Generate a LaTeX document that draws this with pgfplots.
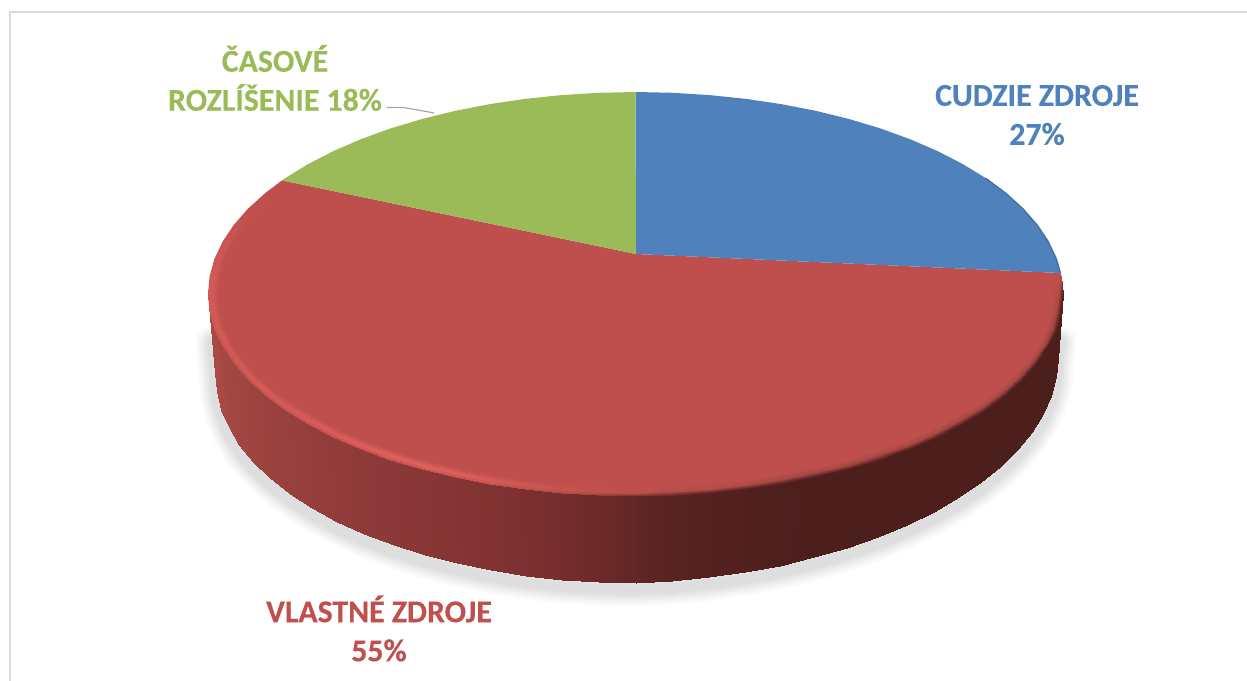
\documentclass[border=0pt]{standalone}
\usepackage{pgfplots}
\usepackage{pgfplotstable}
\usepackage{fontspec}
\pgfplotsset{compat=1.18}
\setmainfont{Carlito}[BoldFeatures={FakeBold=0.3}]
\definecolor{cblue}{RGB}{79,129,189}
\definecolor{cred}{RGB}{190,79,76}
\definecolor{cgreen}{RGB}{155,187,89}
\definecolor{tred}{RGB}{192,80,77}
\pgfplotstableread{
x y m
208 294 0.82
215.5 373 0.82
209.6 311.6 0.82
217 391.3 0.82
214.5 329.1 0.80
221.5 409.5 0.80
222.6 346.3 0.78
229 427.3 0.78
233.8 363.1 0.76
239 444.8 0.76
248.1 379.4 0.74
253.1 461.7 0.74
265.3 395 0.72
270.1 478 0.72
285.3 409.9 0.70
289.9 493.5 0.70
308 423.8 0.68
312.3 508 0.68
333.2 436.8 0.66
337.1 521.5 0.66
360.7 448.7 0.64
364.3 533.9 0.64
390.3 459.5 0.62
393.5 545 0.62
421.7 468.9 0.60
424.5 554.9 0.60
454.8 477.1 0.57
457.1 563.3 0.57
489.3 483.8 0.52
491.2 570.3 0.52
524.9 489.1 0.47
526.3 575.8 0.47
561.3 492.9 0.41
562.3 579.8 0.41
598.2 495.2 0.33
598.7 582.2 0.33
635.5 496 0.25
635.5 583 0.25
672.8 495.2 0.18
672.3 581 0.18
709.7 492.9 0.12
708.7 577.4 0.12
746.1 489.1 0.07
744.7 572.2 0.07
781.7 483.8 0.03
779.8 565.5 0.03
816.2 477.1 0
813.9 557.4 0
849.3 468.9 0
846.5 547.9 0
880.7 459.5 0
877.5 537 0
910.3 448.7 0
906.7 524.9 0
937.8 436.8 0
933.9 511.6 0
963 423.8 0
958.7 497.3 0
985.7 409.9 0
981.1 482 0
1005.7 395 0
1000.9 465.9 0
1022.9 379.4 0
1017.9 449 0
1037.2 363.1 0
1032 431.6 0
1048.4 346.3 0
1043 413.8 0
1056.5 329.1 0
1051 395.7 0
1061.4 311.6 0
1055.9 377.4 0
1063 294 0
1057.5 359 0
}\wall
\pgfplotstableread{
x y m
265.3 193 1.00
268.8 195 1.00
274 198 1
248.1 208.6 1.05
251.7 210.3 1.10
257.2 212.9 1
233.8 224.9 1.15
237.6 226.3 1.20
243.2 228.3 1
222.6 241.7 1.30
226.5 242.8 1.35
232.3 244.3 1
214.5 258.9 1.40
218.5 259.6 1.45
224.4 260.7 1
209.6 276.4 1.50
213.6 276.7 1.55
219.6 277.3 1
208 294 1.55
212 294 1.60
218 294 1
209.6 311.6 1.50
213.6 311.3 1.60
219.6 310.7 1
214.5 329.1 1.40
218.5 328.4 1.65
224.4 327.3 1
222.6 346.3 1.30
226.5 345.2 1.65
232.3 343.7 1
233.8 363.1 1.20
237.6 361.7 1.65
243.2 359.7 1
248.1 379.4 1.20
251.7 377.7 1.65
257.2 375.1 1
265.3 395 1.20
268.8 393 1.70
274 390 1
285.3 409.9 1.20
288.6 407.6 1.70
293.5 404.1 1
308 423.8 1.20
311.1 421.3 1.75
315.7 417.4 1
333.2 436.8 1.20
336 434 1.80
340.3 429.8 1
360.7 448.7 1.20
363.3 445.7 1.90
367.1 441.1 1
390.3 459.5 1.20
392.6 456.2 2
396 451.3 1
421.7 468.9 1.20
423.7 465.5 2
426.7 460.3 1
454.8 477.1 1.15
456.5 473.4 1.90
459 468 1
489.3 483.8 1.10
490.7 480.1 1.70
492.7 474.4 1
524.9 489.1 0.95
525.9 485.2 1.50
527.5 479.5 1
561.3 492.9 0.80
562 489 1.30
563 483.1 1
598.2 495.2 0.65
598.6 491.2 1.15
599.1 485.3 1
635.5 496 0.50
635.5 492 1.05
635.5 486 1
672.8 495.2 0.35
672.4 491.2 0.95
671.9 485.3 1
709.7 492.9 0.20
709 489 0.90
708 483.1 1
746.1 489.1 0.10
745.1 485.2 0.85
743.5 479.5 1
781.7 483.8 0.03
780.3 480.1 0.75
778.3 474.4 1
816.2 477.1 0.03
814.5 473.4 0.72
812 468 1
849.3 468.9 0.03
847.3 465.5 0.72
844.3 460.3 1
880.7 459.5 0.03
878.4 456.2 0.72
875 451.3 1
910.3 448.7 0.03
907.7 445.7 0.72
903.9 441.1 1
937.8 436.8 0.03
935 434 0.72
930.7 429.8 1
963 423.8 0.03
959.9 421.3 0.72
955.3 417.4 1
985.7 409.9 0.03
982.4 407.6 0.72
977.5 404.1 1
1005.7 395 0.03
1002.2 393 0.72
997 390 1
1022.9 379.4 0.03
1019.3 377.7 0.72
1013.8 375.1 1
1037.2 363.1 0.03
1033.4 361.7 0.72
1027.8 359.7 1
1048.4 346.3 0.03
1044.5 345.2 0.72
1038.7 343.7 1
1056.5 329.1 0.03
1052.5 328.4 0.72
1046.6 327.3 1
1061.4 311.6 0.03
1057.4 311.3 0.75
1051.4 310.7 1
1063 294 0.10
1059 294 0.80
1053 294 1
1061.4 276.4 0.95
1057.4 276.7 1
1051.4 277.3 1
}\bevel
\pgfplotstableread{
x y
212 335
215.5 373
217 391.3
221.5 409.5
229 427.3
239 444.8
253.1 461.7
270.1 478
289.9 493.5
312.3 508
337.1 521.5
364.3 533.9
393.5 545
424.5 554.9
457.1 563.3
491.2 570.3
526.3 575.8
562.3 579.8
598.7 582.2
635.5 583
672.3 581
708.7 577.4
744.7 572.2
779.8 565.5
813.9 557.4
846.5 547.9
877.5 537
906.7 524.9
933.9 511.6
958.7 497.3
981.1 482
1000.9 465.9
1017.9 449
1032 431.6
1043 413.8
1051 395.7
1055.9 377.4
1057.5 359
1060 335
}\outline
\begin{document}
\begin{tikzpicture}
\useasboundingbox (0,0) rectangle (623.5pt,340pt);
\begin{axis}[
  at={(0,0)},anchor=south west,
  width=623.5pt,height=340pt,scale only axis,
  xmin=0,xmax=1247,ymin=0,ymax=680,y dir=reverse,
  hide axis,clip=true,
  colormap={pie}{rgb255(0cm)=(76,30,28) rgb255(2cm)=(90,36,35) rgb255(4cm)=(117,45,44)
    rgb255(6cm)=(136,54,54) rgb255(8cm)=(168,74,69) rgb255(10cm)=(190,79,76) rgb255(20cm)=(226,98,94)},
  point meta min=0,point meta max=2,
  every axis plot/.append style={line join=round}
]
% frame
\addplot[draw={rgb,255:red,217;green,217;blue,217},line width=1pt] coordinates {(1250,12) (10,12) (10,683)};
% shadow
\addplot[draw=black,draw opacity=0.012,line width=17pt,line cap=round] table[x=x,y expr=\thisrow{y}+7] {\outline};
\addplot[draw=black,draw opacity=0.015,line width=15pt,line cap=round] table[x=x,y expr=\thisrow{y}+7] {\outline};
\addplot[draw=black,draw opacity=0.02,line width=13pt,line cap=round] table[x=x,y expr=\thisrow{y}+7] {\outline};
\addplot[draw=black,draw opacity=0.02,line width=11pt,line cap=round] table[x=x,y expr=\thisrow{y}+7] {\outline};
\addplot[draw=black,draw opacity=0.025,line width=9pt,line cap=round] table[x=x,y expr=\thisrow{y}+7] {\outline};
\addplot[draw=black,draw opacity=0.025,line width=7pt,line cap=round] table[x=x,y expr=\thisrow{y}+7] {\outline};
\addplot[draw=black,draw opacity=0.025,line width=5pt,line cap=round] table[x=x,y expr=\thisrow{y}+7] {\outline};
% wall
\addplot[surf,shader=interp,mesh/cols=2,mesh/ordering=x varies,point meta=\thisrow{m}] table[x=x,y=y] {\wall};
% top faces
\addplot[fill=cred,draw=none] coordinates {
(636,254) (1060.6,273) (1061.4,276.4) (1063,294) (1061.4,311.6) (1056.5,329.1) (1048.4,346.3) (1037.2,363.1)
(1022.9,379.4) (1005.7,395) (985.7,409.9) (963,423.8) (937.8,436.8) (910.3,448.7) (880.7,459.5) (849.3,468.9)
(816.2,477.1) (781.7,483.8) (746.1,489.1) (709.7,492.9) (672.8,495.2) (635.5,496) (598.2,495.2) (561.3,492.9)
(524.9,489.1) (489.3,483.8) (454.8,477.1) (421.7,468.9) (390.3,459.5) (360.7,448.7) (333.2,436.8) (308,423.8)
(285.3,409.9) (265.3,395) (248.1,379.4) (233.8,363.1) (222.6,346.3) (214.5,329.1) (209.6,311.6) (208,294)
(209.6,276.4) (214.5,258.9) (222.6,241.7) (233.8,224.9) (248.1,208.6) (265.3,193) (282,180.4)
} --cycle;
\addplot[fill=cblue,draw=none] coordinates {
(636,254) (635.5,92) (672.8,92.8) (709.7,95.1) (746.1,98.9) (781.7,104.2) (816.2,110.9) (849.3,119.1) (880.7,128.5)
(910.3,139.3) (937.8,151.2) (963,164.2) (985.7,178.1) (1005.7,193) (1022.9,208.6) (1037.2,224.9) (1048.4,241.7)
(1056.5,258.9) (1060.6,273)
} --cycle;
\addplot[fill=cgreen,draw=none] coordinates {
(636,254) (282,180.4) (285.3,178.1) (308,164.2) (333.2,151.2) (360.7,139.3) (390.3,128.5) (421.7,119.1) (454.8,110.9)
(489.3,104.2) (524.9,98.9) (561.3,95.1) (598.2,92.8) (635.5,92)
} --cycle;
% bevel of the rim
\addplot[surf,shader=interp,mesh/cols=3,mesh/ordering=x varies,point meta=\thisrow{m}] table[x=x,y=y] {\bevel};
% dark edge of the blue slice
\addplot[draw={rgb,255:red,45;green,85;blue,130},draw opacity=0.7,line width=0.6pt] coordinates {
(985.7,178.1) (1005.7,193) (1022.9,208.6) (1037.2,224.9) (1048.4,241.7) (1056.5,258.9) (1060.6,273)};
% leader line
\addplot[draw={rgb,255:red,166;green,166;blue,166},line width=0.6pt,smooth] coordinates {(387,107.5) (402,107.5) (418,110) (434,113)};
% labels
\node[font=\bfseries\fontsize{15.9}{19.5}\selectfont,text=cgreen,align=center] at (axis cs:275,78) {ČASOVÉ\\ROZLÍŠENIE 18\%};
\node[font=\bfseries\fontsize{15.9}{19.5}\selectfont,text=cblue,align=center] at (axis cs:1037,115) {CUDZIE ZDROJE\\27\%};
\node[font=\bfseries\fontsize{15.9}{19.5}\selectfont,text=tred,align=center] at (axis cs:379,628.5) {VLASTNÉ ZDROJE\\55\%};
\end{axis}
\end{tikzpicture}
\end{document}
